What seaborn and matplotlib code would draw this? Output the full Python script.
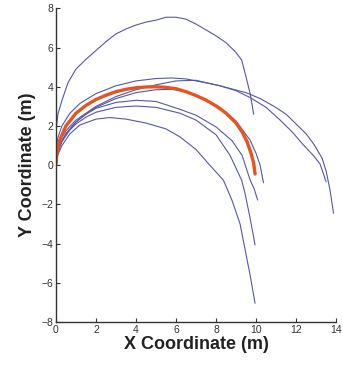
import matplotlib
matplotlib.use("Agg")
import matplotlib.pyplot as plt
import seaborn as sns
import pandas as pd

# Blue trajectories (x, y in metres)
c1_x = [0.0, 0.02, 0.1, 0.3, 0.6, 1.0, 1.5, 2.0, 2.5, 3.0, 3.5, 4.0, 4.5, 5.0, 5.5, 6.0, 6.5, 7.0, 7.5, 8.0, 8.5, 9.0, 9.28, 9.5, 9.7, 9.8, 9.88]
c1_y = [1.3, 1.9, 2.6, 3.3, 4.2, 4.9, 5.4, 5.85, 6.3, 6.7, 6.95, 7.15, 7.3, 7.4, 7.55, 7.55, 7.45, 7.2, 6.9, 6.6, 6.25, 5.75, 5.36, 4.5, 3.66, 3.1, 2.6]

c2_x = [0.0, 0.1, 0.3, 0.7, 1.2, 2.0, 3.0, 4.0, 5.0, 5.8, 6.5, 7.5, 8.2, 9.0, 9.7, 10.5, 11.2, 11.8, 12.35, 12.9, 13.2, 13.5]
c2_y = [0.8, 1.4, 2.0, 2.65, 3.15, 3.65, 4.05, 4.3, 4.42, 4.45, 4.4, 4.2, 4.05, 3.8, 3.45, 2.95, 2.3, 1.7, 1.05, 0.45, 0.05, -0.85]

c3_x = [0.0, 0.1, 0.5, 1.0, 2.0, 3.0, 4.0, 5.0, 6.0, 7.0, 8.2, 9.5, 10.2, 10.9, 11.5, 12.0, 12.5, 12.9, 13.3, 13.5, 13.7, 13.87]
c3_y = [0.6, 1.1, 1.75, 2.3, 3.0, 3.5, 3.85, 4.1, 4.3, 4.33, 4.05, 3.7, 3.4, 3.0, 2.6, 2.1, 1.6, 1.05, 0.35, -0.3, -1.3, -2.46]

c4_x = [0.0, 0.2, 0.5, 1.0, 1.5, 2.0, 3.0, 4.0, 5.0, 5.8, 6.5, 7.3, 8.2, 9.0, 9.7, 10.0, 10.2, 10.37]
c4_y = [0.3, 1.0, 1.6, 2.2, 2.6, 2.95, 3.4, 3.7, 3.85, 3.87, 3.75, 3.45, 2.95, 2.25, 1.28, 0.6, 0.0, -0.9]

c5_x = [0.0, 0.2, 0.5, 1.0, 1.5, 2.0, 3.0, 4.0, 5.0, 6.2, 7.0, 8.0, 8.8, 9.3, 9.7, 9.9, 10.08]
c5_y = [0.5, 1.1, 1.6, 2.2, 2.6, 2.9, 3.2, 3.31, 3.25, 2.85, 2.55, 1.95, 1.25, 0.5, -0.75, -1.2, -1.78]

c6_x = [0.0, 0.3, 0.7, 1.0, 1.5, 2.0, 3.0, 4.0, 5.0, 6.2, 7.0, 8.0, 8.7, 9.28, 9.45, 9.7, 9.95]
c6_y = [0.4, 1.2, 1.8, 2.1, 2.45, 2.7, 2.95, 3.02, 2.95, 2.65, 2.3, 1.55, 0.5, -0.77, -1.45, -2.7, -4.07]

c7_x = [0.0, 0.3, 0.7, 1.2, 2.0, 2.7, 3.5, 4.5, 5.5, 6.2, 7.0, 7.6, 8.37, 8.8, 9.2, 9.45, 9.7, 9.95]
c7_y = [0.3, 1.0, 1.6, 2.05, 2.35, 2.43, 2.35, 2.15, 1.85, 1.44, 0.8, 0.1, -0.77, -1.8, -3.0, -4.3, -5.6, -7.05]

# Highlighted (red) trajectory
red_x = [0.0, 0.05, 0.2, 0.5, 1.0, 1.5, 2.0, 2.5, 3.0, 3.5, 4.0, 4.5, 5.0, 5.5, 6.0, 6.5, 7.0, 7.5, 8.0, 8.5, 9.0, 9.3, 9.55, 9.75, 9.88, 9.95]
red_y = [0.0, 0.6, 1.3, 2.0, 2.65, 3.05, 3.35, 3.57, 3.75, 3.87, 3.95, 3.99, 4.0, 3.97, 3.9, 3.75, 3.55, 3.32, 3.02, 2.65, 2.15, 1.7, 1.2, 0.6, 0.1, -0.45]

x_ticks = [0, 2, 4, 6, 8, 10, 12, 14]
y_ticks = [-8, -6, -4, -2, 0, 2, 4, 6, 8]

blue_curves = [(c1_x, c1_y), (c2_x, c2_y), (c3_x, c3_y), (c4_x, c4_y),
               (c5_x, c5_y), (c6_x, c6_y), (c7_x, c7_y)]
rows = []
for i, (xs, ys) in enumerate(blue_curves):
    for j, (xv, yv) in enumerate(zip(xs, ys)):
        rows.append({"curve": i, "order": j, "x": xv, "y": yv})
df_blue = pd.DataFrame(rows)
df_red = pd.DataFrame({"x": red_x, "y": red_y})

sns.set_style("white")
plt.rcParams['font.family'] = ['Liberation Sans', 'DejaVu Sans']

fig = plt.figure(figsize=(3.43, 3.65), dpi=100)
ax = fig.add_axes([0.163, 0.118, 0.817, 0.859])

sns.lineplot(data=df_blue, x="x", y="y", units="curve", estimator=None, sort=False,
             color="#5557aa", linewidth=0.8, ax=ax)
sns.lineplot(data=df_red, x="x", y="y", estimator=None, sort=False,
             color="#e8531f", linewidth=2.4, ax=ax)

ax.set_xlim(0, 14)
ax.set_ylim(-8, 8)
ax.set_xticks(x_ticks)
ax.set_yticks(y_ticks)
ax.set_xticklabels([str(t) for t in x_ticks], fontsize=7.5, color="#333333")
ax.set_yticklabels([str(t).replace('-', '\u2212') for t in y_ticks], fontsize=7.5, color="#333333")
ax.tick_params(direction="in", length=3, width=0.8, color="#333333", pad=2, left=True, bottom=True)

for s in ["top", "right"]:
    ax.spines[s].set_visible(False)
for s in ["left", "bottom"]:
    ax.spines[s].set_color("#333333")
    ax.spines[s].set_linewidth(1.0)

ax.set_xlabel("X Coordinate (m)", fontsize=13, fontweight="bold", labelpad=1, color="#222222")
ax.set_ylabel("Y Coordinate (m)", fontsize=13, fontweight="bold", labelpad=4, color="#222222")

fig.savefig("out.png", dpi=100)
